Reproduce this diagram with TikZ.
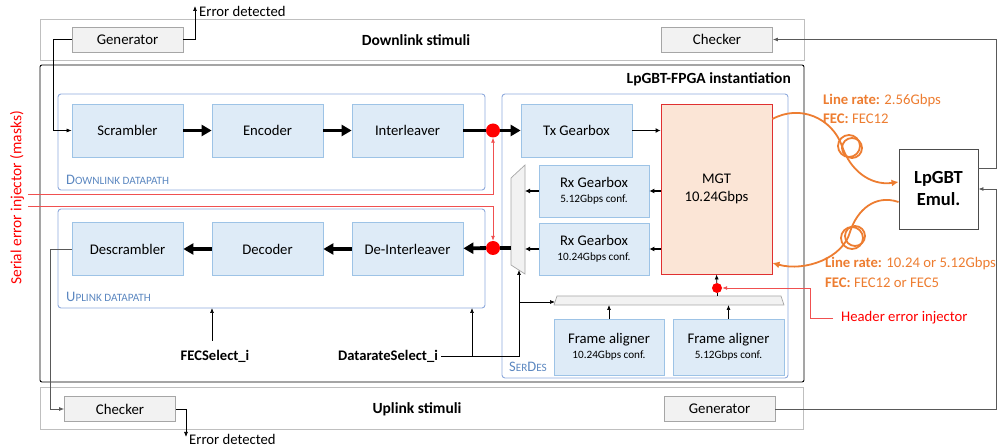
\documentclass[tikz,border=0pt]{standalone}
\usepackage{fontspec}
\setmainfont{Carlito}
\usetikzlibrary{arrows.meta}
\definecolor{bfill}{HTML}{DEEBF7}
\definecolor{bdraw}{HTML}{9DC3E6}
\definecolor{cdraw}{HTML}{8FAADC}
\definecolor{clabel}{HTML}{5B87C0}
\definecolor{gfill}{HTML}{F2F2F2}
\definecolor{gdraw}{HTML}{A6A6A6}
\definecolor{sdraw}{HTML}{BFBFBF}
\definecolor{mgtfill}{HTML}{FBE5D6}
\definecolor{mgtdraw}{HTML}{E03030}
\definecolor{fiber}{HTML}{ED7D31}
\definecolor{inj}{HTML}{F05050}
% fake small capitals: one large initial, then smaller capitals
\newcommand{\lbl}[2]{{\fontsize{14.5}{15}\selectfont #1}{\fontsize{11.2}{13}\selectfont #2}}
\newcommand{\conf}[1]{{\fontsize{11.2}{12}\selectfont #1}}
\begin{document}
\begin{tikzpicture}[x=1pt,y=-1pt,
  blk/.style={draw=bdraw,fill=bfill,line width=0.8pt,minimum width=111pt,minimum height=53pt,inner sep=0pt,align=center,font=\fontsize{14.7}{16}\selectfont},
  gbox/.style={draw=gdraw,fill=gfill,line width=0.8pt,minimum width=111pt,minimum height=25pt,inner sep=0pt,font=\fontsize{14.8}{16}\selectfont},
  stim/.style={draw=sdraw,line width=1pt,inner sep=0pt},
  cont/.style={draw=cdraw,line width=0.9pt,rounded corners=3pt},
  dot/.style={circle,fill=red,inner sep=0pt,minimum size=#1},
  thk/.style={line width=3.8pt,-{Triangle[length=10pt,width=11pt]}},
  thkl/.style={line width=3.8pt},
  med/.style={line width=1.4pt,-{Latex[length=5pt,width=5pt]}},
  thn/.style={line width=0.7pt,-{Latex[length=5pt,width=4pt]}},
  glin/.style={draw=black!65,line width=0.8pt},
  redl/.style={draw=inj,line width=0.8pt},
  fib/.style={draw=fiber,line width=1.8pt},
  muxs/.style={draw=gdraw,fill=gfill,line width=0.7pt},
  bold/.style={font=\bfseries\fontsize{15.5}{17}\selectfont},
  txt/.style={inner sep=0pt,font=\fontsize{14.7}{16}\selectfont},
  ftxt/.style={anchor=west,inner sep=0pt,text=fiber,font=\fontsize{14.7}{16}\selectfont}
]
\useasboundingbox (0,0) rectangle (997,446);

% stimuli frames
\node[stim,minimum width=764pt,minimum height=41pt] (dlbox) at (422,40.5) {};
\node[stim,minimum width=763pt,minimum height=42pt] (ulbox) at (421.5,409) {};
\node[bold] (dltxt) at (416,40) {Downlink stimuli};
\node[bold] (ultxt) at (417,409) {Uplink stimuli};
\node[gbox] (gen1) at (127.5,39.5) {Generator};
\node[gbox] (chk2) at (717,39.5) {Checker};
\node[gbox] (chk1) at (120,409) {Checker};
\node[gbox] (gen2) at (719.5,409) {Generator};

% FPGA frame
\draw[line width=0.9pt,rounded corners=2pt] (40,65) rectangle (804,382);
\node[bold,anchor=east,inner sep=0pt] (fpga) at (791,79) {LpGBT-FPGA instantiation};

% datapath containers
\draw[cont] (58,94) rectangle (485,190);
\draw[cont] (58,209) rectangle (485,308);
\draw[cont] (502,94) rectangle (788,378);
\node[anchor=base west,text=clabel,inner sep=0pt] (dll) at (66,184.5) {\lbl{D}{OWNLINK DATAPATH}};
\node[anchor=base west,text=clabel,inner sep=0pt] (ull) at (66,302) {\lbl{U}{PLINK DATAPATH}};
\node[anchor=base west,text=clabel,inner sep=0pt] (sdl) at (509,372) {\lbl{S}{ER}\lbl{D}{ES}};

% blocks
\node[blk] (scr) at (127.5,130.5) {Scrambler};
\node[blk] (enc) at (267.5,130.5) {Encoder};
\node[blk] (ilv) at (407.5,130.5) {Interleaver};
\node[blk] (dscr) at (127.5,249) {Descrambler};
\node[blk] (dec) at (267.5,249) {Decoder};
\node[blk] (dilv) at (407.5,249) {De-Interleaver};
\node[blk] (txg) at (576.5,130.5) {Tx Gearbox};
\node[blk,minimum width=110pt,minimum height=52pt] (rxg5) at (594,191) {Rx Gearbox\\[-1pt]\conf{5.12Gbps conf.}};
\node[blk,minimum width=110pt,minimum height=52pt] (rxg10) at (594,249) {Rx Gearbox\\[-1pt]\conf{10.24Gbps conf.}};
\node[blk,minimum width=110pt,minimum height=56pt] (fa10) at (609,347) {Frame aligner\\[-1pt]\conf{10.24Gbps conf.}};
\node[blk,minimum width=111pt,minimum height=56pt] (fa5) at (728.5,347) {Frame aligner\\[-1pt]\conf{5.12Gbps conf.}};
\node[draw=mgtdraw,fill=mgtfill,line width=0.9pt,minimum width=111pt,minimum height=170pt,inner sep=0pt,align=center,font=\fontsize{14.7}{18}\selectfont] (mgt) at (716.5,189) {MGT\\10.24Gbps};
\node[draw=black!70,line width=0.9pt,minimum width=79pt,minimum height=80pt,inner sep=0pt,align=center,font=\bfseries\fontsize{18.5}{22}\selectfont] (emul) at (938.5,189) {LpGBT\\Emul.};

% multiplexers
\draw[muxs] (511,178) -- (525,165) -- (525,274) -- (511,265) -- cycle;
\draw[muxs] (554,305) -- (557,296) -- (781,296) -- (784,305) -- cycle;
\coordinate (muxo) at (511,248);
\coordinate (muxb) at (519,270);
\coordinate (trl) at (555,302);
\coordinate (trt) at (717,296);

% injection points
\node[dot=14pt] (d1) at (493,130.5) {};
\node[dot=14pt] (d2) at (493,248) {};
\node[dot=10pt] (d3) at (717,288) {};

% downlink data flow
\draw[thk] (scr) -- (enc);
\draw[thk] (enc) -- (ilv);
\draw[thkl] (ilv) -- (d1);
\draw[thk] (d1) -- (txg);
\draw[med] (txg) -- (mgt.west |- txg);
% uplink data flow
\draw[med] (mgt.west |- rxg5) -- (rxg5);
\draw[med] (mgt.west |- rxg10) -- (rxg10);
\draw[med] (rxg5.west) -- (525,191);
\draw[med] (rxg10.west) -- (525,249);
\draw[thkl] (muxo) -- (d2);
\draw[thk] (d2) -- (dilv);
\draw[thk] (dilv) -- (dec);
\draw[thk] (dec) -- (dscr);

% frame aligners
\draw[thn] (fa10.north) -- (fa10.north |- 0,305);
\draw[thn] (fa5.north) -- (fa5.north |- 0,305);
\draw[line width=0.7pt] (trt) -- (d3);
\draw[thn] (d3) -- (mgt.south);

% stimuli connections
\draw[thn] (gen1.west) -- (53,39.5) -- (53,130.5) -- (scr.west);
\draw[thn] (gen1.east) -- (195,39.5) -- (195,6);
\node[txt,anchor=west] (err1) at (199,11) {Error detected};
\draw[glin,-{Latex[length=5pt,width=4pt]}] (dscr.west) -- (50,249) -- (50,409) -- (chk1.west);
\draw[thn] (chk1.east) -- (186,409) -- (186,437);
\node[txt,anchor=west] (err2) at (189,439) {Error detected};
\draw[glin,-{Latex[length=5pt,width=4pt]}] (emul.east |- 0,168) -- (996.5,168) -- (996.5,39.5) -- (chk2.east);
\draw[glin,-{Latex[length=5pt,width=4pt]}] (gen2.east) -- (996.5,409) -- (996.5,189) -- (emul.east);

% configuration inputs
\node[font=\bfseries\fontsize{14.6}{16}\selectfont] (fec) at (215,356) {FECSelect\_i};
\node[font=\bfseries\fontsize{14.6}{16}\selectfont] (drs) at (388,356) {DatarateSelect\_i};
\draw[thn] (212,341) -- (212,308);
\draw[thn] (drs.east) -- (519,356) -- (muxb);
\draw[thn] (472,356) -- (472,308);
\draw[thn] (519,302) -- (trl);

% error injectors
\node[rotate=90,text=red,font=\fontsize{15.5}{17}\selectfont] (sei) at (17,198) {Serial error injector (masks)};
\draw[redl,-{Latex[length=5pt,width=4pt]}] (28,194) -- (493,194) -- (d1.south);
\draw[redl,-{Latex[length=5pt,width=4pt]}] (28,206) -- (493,206) -- (d2.north);
\draw[redl,-{Latex[length=5pt,width=4pt]}] (833,318) -- (810,318) -- (810,288) -- (d3.east);
\node[txt,anchor=west,text=red] (hei) at (841,318) {Header error injector};

% optical links
\draw[fib,-{Latex[length=7pt,width=7pt]}] (mgt.east |- 0,119) .. controls (800,104) and (832,118) .. (842,146)
  .. controls (850,170) and (870,186) .. (emul.west |- 0,182);
\draw[fib] (849,146) circle (11pt);
\draw[fib] (852,148) circle (10pt);
\draw[fib,-{Latex[length=7pt,width=7pt]}] (emul.west |- 0,202) .. controls (875,194) and (857,210) .. (850,232)
  .. controls (843,258) and (805,272) .. (mgt.east |- 0,263);
\draw[fib] (852,238) circle (11pt);
\draw[fib] (855,236) circle (10pt);
\node[ftxt] (lr1) at (823,101) {\textbf{Line rate:} 2.56Gbps};
\node[ftxt] (fe1) at (823,119) {\textbf{FEC:} FEC12};
\node[ftxt] (lr2) at (825,264) {\textbf{Line rate:} 10.24 or 5.12Gbps};
\node[ftxt] (fe2) at (825,283) {\textbf{FEC:} FEC12 or FEC5};
\end{tikzpicture}
\end{document}
